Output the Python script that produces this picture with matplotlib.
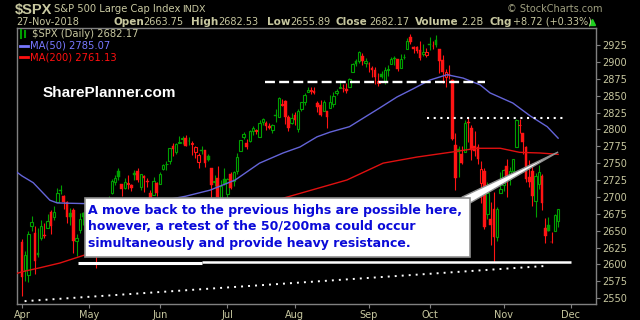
import matplotlib
matplotlib.use("Agg")
import matplotlib.pyplot as plt
from matplotlib.patches import Rectangle, Polygon
from matplotlib.lines import Line2D

# first trading session of each month (index into the daily arrays)
month_names = ["Apr", "May", "Jun", "Jul", "Aug", "Sep", "Oct", "Nov", "Dec"]
month_idx = [0, 21, 43, 64, 85, 108, 127, 150, 171]
y_ticks = [2550, 2575, 2600, 2625, 2650, 2675, 2700, 2725, 2750, 2775,
           2800, 2825, 2850, 2875, 2900, 2925]

prev_close = 2640.87  # close of the session before the first bar

opens = [
    # Apr
    2633.45, 2592.17, 2584.04, 2657.36, 2645.82, 2617.18, 2638.41, 2643.24, 2653.83, 2676.90, 2670.10,
    2692.74, 2710.11, 2701.16, 2692.56, 2675.40, 2680.80, 2634.92, 2651.65, 2675.47, 2682.51,
    # May
    2642.96, 2654.24, 2628.08, 2621.45, 2680.34, 2670.26, 2678.12, 2705.02, 2722.70, 2738.47, 2718.59,
    2712.62, 2719.71, 2717.35, 2735.39, 2738.34, 2713.98, 2730.94, 2723.60, 2705.11, 2702.43, 2720.98,
    # Jun
    2718.70, 2741.67, 2748.46, 2753.25, 2774.84, 2765.84, 2780.18, 2785.60, 2787.94, 2783.21, 2777.78,
    2765.79, 2752.01, 2769.73, 2769.28, 2760.79, 2742.94, 2722.12, 2728.45, 2698.69, 2727.13,
    # Jul
    2704.95, 2733.27, 2724.19, 2737.68, 2768.51, 2788.56, 2779.82, 2783.14, 2796.93, 2797.36, 2789.34,
    2811.35, 2809.37, 2804.55, 2799.17, 2820.68, 2817.73, 2835.49, 2842.35, 2819.00, 2809.73,
    # Aug
    2821.17, 2800.48, 2829.62, 2840.29, 2855.92, 2856.79, 2857.19, 2838.90, 2835.46, 2827.88, 2827.95,
    2831.44, 2838.32, 2853.93, 2861.51, 2860.99, 2860.29, 2862.35, 2884.69, 2901.45, 2900.62, 2908.94, 2898.37,
    # Sep
    2896.96, 2891.59, 2888.64, 2868.26, 2881.39, 2871.57, 2888.29, 2896.85, 2906.38, 2903.83,
    2890.74, 2906.60, 2919.73, 2936.76, 2921.83, 2921.75, 2916.98, 2911.65, 2910.03,
    # Oct
    2926.29, 2923.80, 2931.69, 2919.35, 2902.54, 2877.53, 2882.51, 2873.90, 2776.87, 2770.54, 2763.83,
    2767.05, 2811.67, 2802.00, 2775.66, 2773.94, 2721.03, 2737.87, 2674.88, 2667.86, 2682.65, 2640.68, 2705.60,
    # Nov
    2717.58, 2745.45, 2726.37, 2738.40, 2774.13, 2806.38, 2794.10, 2773.93, 2730.05, 2737.90,
    2693.52, 2718.54, 2730.74, 2654.60, 2657.74, 2633.36, 2649.97, 2663.75,
]
highs = [
    2638.30, 2619.14, 2649.86, 2672.08, 2656.88, 2653.55, 2665.45, 2661.43, 2674.72, 2680.26, 2686.49,
    2713.34, 2717.49, 2702.84, 2693.94, 2682.86, 2683.55, 2645.30, 2676.48, 2677.35, 2682.87,
    2655.27, 2660.87, 2637.14, 2673.61, 2683.35, 2676.34, 2701.27, 2726.11, 2732.86, 2742.10, 2718.59,
    2727.76, 2731.96, 2719.50, 2739.19, 2742.24, 2733.33, 2731.97, 2727.36, 2710.67, 2729.34, 2722.50,
    2736.93, 2749.16, 2752.61, 2772.39, 2779.90, 2779.39, 2790.21, 2789.80, 2791.47, 2789.06, 2782.81,
    2774.99, 2765.05, 2774.86, 2769.28, 2764.17, 2742.94, 2732.91, 2746.09, 2724.34, 2743.26,
    2727.26, 2736.58, 2737.83, 2764.41, 2784.65, 2795.58, 2785.91, 2799.22, 2804.53, 2801.19, 2814.19,
    2816.76, 2812.05, 2809.70, 2808.61, 2829.99, 2848.03, 2845.57, 2843.17, 2821.74, 2824.46,
    2825.83, 2829.91, 2840.38, 2853.29, 2863.43, 2862.44, 2862.48, 2842.20, 2843.40, 2843.11, 2827.95,
    2850.49, 2855.63, 2859.76, 2873.23, 2867.54, 2868.78, 2876.16, 2898.25, 2903.77, 2916.50, 2912.46, 2906.32,
    2900.18, 2894.21, 2892.05, 2883.81, 2886.93, 2892.52, 2894.65, 2906.76, 2908.30, 2904.65,
    2911.17, 2912.36, 2934.80, 2940.91, 2923.79, 2923.95, 2931.15, 2927.22, 2920.53,
    2937.06, 2931.42, 2939.86, 2919.78, 2909.64, 2889.45, 2894.83, 2874.02, 2795.14, 2775.77, 2775.99,
    2813.46, 2816.94, 2806.04, 2797.77, 2778.94, 2753.59, 2742.59, 2722.70, 2692.38, 2706.85, 2685.43, 2736.69,
    2741.67, 2756.55, 2744.27, 2756.82, 2815.15, 2814.75, 2794.10, 2775.99, 2754.60, 2746.80,
    2735.38, 2746.75, 2733.16, 2669.44, 2670.73, 2647.55, 2674.35, 2682.53,
]
lows = [
    2553.80, 2575.49, 2573.61, 2649.58, 2586.27, 2610.79, 2635.78, 2639.25, 2653.83, 2645.05, 2665.16,
    2692.05, 2703.63, 2681.90, 2660.61, 2657.99, 2617.32, 2612.67, 2647.16, 2659.01, 2648.04,
    2625.41, 2631.70, 2594.62, 2615.32, 2664.70, 2655.20, 2674.14, 2704.54, 2717.45, 2725.47, 2701.91,
    2712.17, 2711.36, 2709.18, 2725.70, 2721.88, 2709.54, 2707.38, 2714.99, 2676.81, 2702.43, 2700.68,
    2718.70, 2740.54, 2739.51, 2748.46, 2760.16, 2763.59, 2779.26, 2778.78, 2774.65, 2776.52, 2761.73,
    2757.12, 2743.19, 2763.91, 2744.39, 2752.68, 2698.67, 2715.60, 2699.38, 2691.99, 2718.03,
    2698.95, 2711.16, 2716.02, 2733.52, 2768.51, 2786.24, 2770.77, 2781.53, 2791.69, 2793.39, 2789.24,
    2805.89, 2799.77, 2800.01, 2795.14, 2811.12, 2817.73, 2835.26, 2808.34, 2798.11, 2808.06,
    2805.85, 2796.34, 2827.37, 2835.98, 2855.92, 2853.09, 2851.98, 2825.81, 2819.88, 2826.58, 2802.49,
    2831.44, 2833.73, 2850.62, 2861.32, 2856.05, 2854.03, 2862.35, 2884.69, 2893.50, 2898.40, 2895.22, 2891.73,
    2885.13, 2876.92, 2867.29, 2864.12, 2875.94, 2866.78, 2879.20, 2896.39, 2895.77, 2886.16,
    2890.43, 2903.82, 2919.73, 2927.11, 2912.63, 2913.70, 2903.28, 2909.27, 2907.50,
    2917.91, 2919.37, 2921.36, 2883.92, 2869.29, 2862.08, 2874.27, 2784.86, 2710.51, 2729.44, 2749.03,
    2766.91, 2781.81, 2755.18, 2760.27, 2749.22, 2691.43, 2651.89, 2667.84, 2628.16, 2603.54, 2635.34, 2705.60,
    2708.85, 2700.44, 2717.94, 2737.08, 2774.13, 2794.99, 2764.24, 2722.00, 2714.98, 2685.75,
    2670.75, 2712.16, 2681.09, 2631.52, 2649.82, 2631.09, 2649.97, 2655.89,
]
closes = [
    2581.88, 2614.45, 2644.69, 2662.84, 2604.47, 2613.16, 2656.87, 2642.19, 2663.99, 2656.30, 2677.84,
    2706.39, 2708.64, 2693.13, 2670.14, 2670.29, 2634.56, 2639.40, 2666.94, 2669.91, 2648.05,
    2654.80, 2635.67, 2629.73, 2663.42, 2672.63, 2671.92, 2697.79, 2723.07, 2727.72, 2730.13, 2711.45,
    2722.46, 2720.13, 2712.97, 2733.01, 2724.44, 2733.29, 2727.76, 2721.33, 2689.86, 2724.01, 2705.27,
    2734.62, 2746.87, 2748.80, 2772.35, 2770.37, 2779.03, 2782.00, 2786.85, 2775.63, 2782.49, 2779.66,
    2773.75, 2762.59, 2767.32, 2749.76, 2754.88, 2717.07, 2723.06, 2699.63, 2716.31, 2718.37,
    2726.71, 2713.22, 2736.61, 2759.82, 2784.17, 2793.84, 2774.02, 2798.29, 2801.31, 2798.43, 2809.55,
    2815.62, 2804.49, 2801.83, 2806.98, 2820.40, 2846.07, 2837.44, 2818.82, 2802.60, 2816.29,
    2813.36, 2827.22, 2840.35, 2850.40, 2858.45, 2857.70, 2853.58, 2833.28, 2821.93, 2839.96, 2818.37,
    2840.69, 2850.13, 2857.05, 2862.96, 2861.82, 2856.98, 2874.69, 2896.74, 2897.52, 2914.04, 2901.13, 2901.52,
    2896.72, 2888.60, 2878.05, 2871.68, 2877.13, 2887.89, 2888.92, 2904.18, 2904.98, 2888.80,
    2904.31, 2907.95, 2930.75, 2929.67, 2919.37, 2915.56, 2905.97, 2914.00, 2913.98,
    2924.59, 2923.43, 2925.51, 2901.61, 2885.57, 2884.43, 2880.34, 2785.68, 2728.37, 2767.13, 2750.79,
    2809.92, 2809.21, 2768.78, 2767.78, 2755.88, 2740.69, 2656.10, 2705.57, 2658.69, 2641.25, 2682.63, 2711.74,
    2740.37, 2723.06, 2738.31, 2755.45, 2813.89, 2806.83, 2781.01, 2726.22, 2722.18, 2701.58,
    2730.20, 2736.27, 2690.73, 2641.89, 2649.93, 2632.56, 2673.45, 2682.17,
]

# moving averages (bar index, value)
ma50_idx = [-2, 0, 3.5, 8.7, 11, 20, 30, 42, 51, 58.6, 66.4, 74, 81.3, 86.6, 91.9, 96, 102,
            111.5, 116.8, 121.8, 127, 132.4, 137.4, 142.7, 145.8, 152.9, 158.3, 163.6, 167]
ma50_val = [2738, 2731, 2721, 2695, 2691, 2690, 2688, 2693, 2701, 2710, 2725, 2750, 2765, 2774, 2789, 2796, 2804,
            2832, 2848, 2860, 2873, 2881, 2876, 2866, 2854, 2839, 2820, 2804, 2787]
ma200_idx = [-2, 0, 5.6, 11.8, 19.6, 50, 83.5, 101.2, 112.5, 123, 133.3, 141.7, 149, 155, 161.4, 167]
ma200_val = [2586, 2589, 2595, 2602, 2614, 2655, 2701, 2725, 2750, 2759, 2766, 2772, 2772, 2766, 2765, 2763]

note = ("A move back to the previous highs are possible here,\n"
        "however, a retest of the 50/200ma could occur\n"
        "simultaneously and provide heavy resistance.")

BEIGE = "#c8c8a0"
GREEN = "#00a000"
RED = "#ff1414"

fig = plt.figure(figsize=(6.4, 3.2), dpi=100, facecolor="black")
ax = fig.add_axes([17 / 640, 16 / 320, 579 / 640, 276 / 320], facecolor="black")


def px(x, y):
    return x / 640, 1 - y / 320


# candles: hollow when close > open, red when close < previous close
n = len(closes)
for i in range(n):
    o, h, l, c = opens[i], highs[i], lows[i], closes[i]
    pc = prev_close if i == 0 else closes[i - 1]
    col = RED if c < pc else GREEN
    ax.vlines(i, l, h, color=col, lw=0.8, zorder=2)
    bot = min(o, c)
    hgt = max(abs(c - o), 0.8)
    if c > o:
        ax.add_patch(Rectangle((i - 0.38, bot), 0.76, hgt, facecolor="black",
                               edgecolor=col, lw=0.8, zorder=3))
    else:
        ax.add_patch(Rectangle((i - 0.42, bot), 0.84, hgt, facecolor=col,
                               edgecolor=col, lw=0.3, zorder=3))

ax.plot(ma50_idx, ma50_val, color="#6464d8", lw=1.0, zorder=4)
ax.plot(ma200_idx, ma200_val, color="#e01010", lw=1.0, zorder=4)

# hand drawn levels
ax.plot([75.7, 144.2], [2870, 2870], color="white", lw=1.7, ls=(0, (4.2, 1.8)), zorder=5)
ax.plot([126.2, 169.2], [2817, 2817], color="white", lw=1.5, ls=(0, (1, 2.2)), zorder=5)
ax.plot([17.4, 56.1], [2601.7, 2601.7], color="white", lw=2.2, solid_capstyle="butt", zorder=5)
ax.plot([56.1, 171], [2603, 2603], color="white", lw=1.8, solid_capstyle="butt", zorder=5)
ax.plot([0.8, 162.9], [2545.5, 2597.6], color="white", lw=1.4, ls=(0, (1, 2.6)), zorder=5)

# callout box
ax.add_patch(Polygon([(137.0, 2699.5), (139.6, 2691), (167, 2766.5)], closed=True,
                     facecolor="white", edgecolor="#909090", lw=1.0, zorder=6))
ax.add_patch(Rectangle((19.6, 2610.9), 120.0, 87.4, facecolor="white",
                       edgecolor="#909090", lw=1.2, zorder=7))
ax.text(20.6, 2655.4, note, color="#0a0ad8", fontsize=9.0, fontweight="bold",
        va="center", ha="left", linespacing=1.32, zorder=8)

ax.set_xlim(-1.56, 178.8)
ax.set_ylim(2541.3, 2950.2)
ax.yaxis.tick_right()
ax.set_yticks(y_ticks)
ax.set_xticks(month_idx)
ax.set_xticklabels(month_names)
ax.tick_params(axis="both", colors="#808080", labelcolor=BEIGE, labelsize=7,
               length=3, width=0.8, pad=1.5)
for s in ax.spines.values():
    s.set_color("#808080")
    s.set_linewidth(1.0)

# header
fig.text(*px(15, 10), "$SPX", color=BEIGE, fontsize=10.5, fontweight="bold", va="center",
         family="Liberation Sans")
fig.text(*px(54, 9), "S&P 500 Large Cap Index", color=BEIGE, fontsize=7.2, va="center")
fig.text(*px(182, 9), "INDX", color=BEIGE, fontsize=6.8, va="center")
fig.text(*px(507, 9), "\u00a9 StockCharts.com", color="#a0a080", fontsize=7, va="center")
fig.text(*px(16, 22), "27-Nov-2018", color=BEIGE, fontsize=7, va="center")
header = [(113, "Open", True), (143, "2663.75", False), (191, "High", True), (218, "2682.53", False),
          (267, "Low", True), (290, "2655.89", False), (335, "Close", True), (369, "2682.17", False),
          (415, "Volume", True), (461, "2.2B", False), (489, "Chg", True), (513, "+8.72 (+0.33%)", False)]
for x, s, b in header:
    fig.text(*px(x, 22), s, color=BEIGE, fontsize=7.5 if b else 7,
             fontweight="bold" if b else "normal", va="center")
fig.add_artist(Line2D([592 / 640], [1 - 22 / 320], marker="^", color="#20d020", ms=5,
                      transform=fig.transFigure))

# legend inside plot
fig.add_artist(Line2D([21 / 640, 21 / 640], [1 - 30 / 320, 1 - 38 / 320], color=GREEN, lw=1.5,
                      transform=fig.transFigure))
fig.add_artist(Line2D([25 / 640, 25 / 640], [1 - 31 / 320, 1 - 37 / 320], color=GREEN, lw=1.5,
                      transform=fig.transFigure))
fig.text(*px(32, 34), "$SPX (Daily) 2682.17", color=BEIGE, fontsize=7.2, va="center")
fig.add_artist(Line2D([20 / 640, 28 / 640], [1 - 46 / 320] * 2, color="#7878ff", lw=2,
                      transform=fig.transFigure))
fig.text(*px(30, 46), "MA(50) 2785.07", color="#7878ff", fontsize=7.2, va="center")
fig.add_artist(Line2D([20 / 640, 28 / 640], [1 - 57 / 320] * 2, color="#ff1010", lw=2,
                      transform=fig.transFigure))
fig.text(*px(30, 57), "MA(200) 2761.13", color="#ff1010", fontsize=7.2, va="center")

fig.text(*px(43, 93), "SharePlanner.com", color="white", fontsize=11, fontweight="bold",
         family="Liberation Sans", va="center")

fig.savefig("out.png", dpi=100, facecolor="black")
